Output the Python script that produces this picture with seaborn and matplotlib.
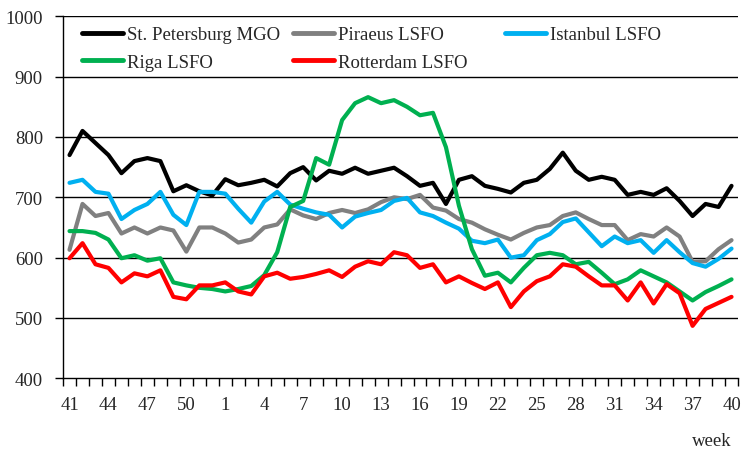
import numpy as np
import pandas as pd
import matplotlib
matplotlib.use("Agg")
import matplotlib.pyplot as plt
from matplotlib.ticker import FixedLocator
import seaborn as sns

# Weekly fuel prices, week 41 of one year to week 40 of the next
weeks = list(range(41, 53)) + list(range(1, 41))

st_petersburg_mgo = [770, 810, 790, 770, 740, 760, 765, 760, 710, 720, 710, 703,
                     730, 720, 724, 729, 718, 740,
                     750, 728, 744, 739, 749, 739, 744, 749, 735, 719, 724, 689, 729, 735, 719, 714,
                     708, 724, 729, 747, 774, 744, 729, 734, 729, 704, 709, 704, 715, 694, 669, 689, 684, 719]
piraeus_lsfo = [613, 689, 669, 674, 640, 650, 640, 650, 645, 610, 650, 650,
                640, 625, 630, 650, 655, 680,
                670, 664, 674, 679, 674, 680, 692, 700, 697, 704, 683, 678, 664, 658, 647, 638,
                630, 641, 650, 654, 669, 675, 664, 654, 654, 629, 639, 635, 650, 635, 593, 594, 614, 629]
istanbul_lsfo = [724, 729, 709, 706, 664, 679, 689, 709, 671, 654, 709, 709,
                 706, 681, 658, 693, 709, 688,
                 681, 675, 671, 650, 668, 674, 679, 694, 699, 675, 669, 658, 648, 628, 624, 630,
                 600, 604, 629, 639, 659, 665, 642, 619, 635, 624, 629, 608, 629, 609, 591, 585, 598, 615]
riga_lsfo = [644, 644, 641, 630, 599, 604, 595, 599, 559, 554, 550, 548,
             544, 548, 553, 571, 609, 684,
             694, 765, 754, 828, 856, 866, 856, 861, 850, 836, 840, 783, 686, 614, 570, 575,
             559, 583, 604, 608, 604, 589, 593, 575, 556, 564, 579, 569, 559, 544, 529, 543, 553, 564]
rotterdam_lsfo = [599, 624, 589, 583, 559, 574, 569, 579, 535, 531, 554, 554,
                  559, 544, 539, 569, 575, 565,
                  568, 573, 579, 568, 585, 594, 589, 609, 604, 583, 589, 559, 569, 558, 548, 559,
                  518, 544, 561, 569, 589, 585, 569, 554, 554, 529, 559, 524, 556, 541, 487, 515, 525, 535]

series = {
    "St. Petersburg MGO": st_petersburg_mgo,
    "Piraeus LSFO": piraeus_lsfo,
    "Istanbul LSFO": istanbul_lsfo,
    "Riga LSFO": riga_lsfo,
    "Rotterdam LSFO": rotterdam_lsfo,
}
colors = {
    "St. Petersburg MGO": "#000000",
    "Piraeus LSFO": "#808080",
    "Istanbul LSFO": "#00B0F0",
    "Riga LSFO": "#00B050",
    "Rotterdam LSFO": "#FF0000",
}

# long table, x is the position of the week on the category axis
rows = []
for name, vals in series.items():
    for i, v in enumerate(vals):
        rows.append({"pos": i, "week": weeks[i], "price": v, "series": name})
df = pd.DataFrame(rows)

FS = 13.5

sns.set_style("white")
plt.rcParams["font.family"] = ["Liberation Serif", "DejaVu Serif"]
plt.rcParams["font.size"] = FS

fig = plt.figure(figsize=(7.54, 4.60), dpi=100)
ax = fig.add_axes([0.0836, 0.1754, 0.8952, 0.787])

sns.lineplot(data=df, x="pos", y="price", hue="series", palette=colors,
             hue_order=list(series.keys()), linewidth=3, ax=ax, legend=False)

ax.set_xlim(-0.5, len(weeks) - 0.5)
ax.set_ylim(400, 1000)
ax.set_yticks(range(400, 1001, 100))
for y in range(500, 1001, 100):
    ax.axhline(y, color="black", linewidth=1, zorder=0)

# labels on every 3rd week, small ticks between weeks
ax.xaxis.set_major_locator(FixedLocator(list(range(0, len(weeks), 3))))
ax.set_xticklabels([str(weeks[i]) for i in range(0, len(weeks), 3)])
ax.xaxis.set_minor_locator(FixedLocator(list(np.arange(-0.5, len(weeks), 1.0))))
ax.tick_params(axis="x", which="major", length=0, pad=13, labelsize=FS)
ax.tick_params(axis="x", which="minor", length=6, width=1, direction="out", color="black", bottom=True)
ax.tick_params(axis="y", length=6, width=1, direction="out", color="black", pad=8.5, labelsize=FS, left=True)

for s in ["top", "right"]:
    ax.spines[s].set_visible(False)
for s in ["left", "bottom"]:
    ax.spines[s].set_color("black")
    ax.spines[s].set_linewidth(1)

ax.set_xlabel("")
ax.set_ylabel("")
fig.text(0.944, 0.04, "week", ha="center", va="center", fontsize=FS)

# legend laid out as three equal columns
cols = [["St. Petersburg MGO", "Riga LSFO"], ["Piraeus LSFO", "Rotterdam LSFO"], ["Istanbul LSFO"]]
xs = [0.1088, 0.3886, 0.6698]
for k, names in enumerate(cols):
    handles = [plt.Line2D([], [], color=colors[n], linewidth=3.5) for n in names]
    fig.legend(handles, names, loc="upper left", bbox_to_anchor=(xs[k], 0.941),
               frameon=False, handlelength=2.2, handletextpad=0.2, labelspacing=0.55,
               borderpad=0, borderaxespad=0, fontsize=FS)

fig.savefig("out.png", dpi=100)
